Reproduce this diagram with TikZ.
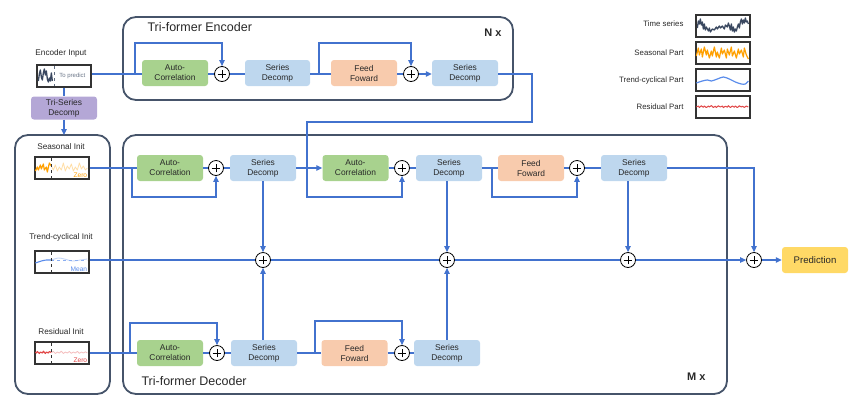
\documentclass[tikz,border=0pt]{standalone}
\usepackage{fontspec}
\setmainfont{Liberation Sans}
\usetikzlibrary{arrows.meta,calc}

\definecolor{flow}{RGB}{66,114,206}
\definecolor{panel}{RGB}{70,84,106}
\definecolor{acgreen}{RGB}{168,210,142}
\definecolor{sdblue}{RGB}{190,215,238}
\definecolor{fforange}{RGB}{248,203,173}
\definecolor{tsdpurple}{RGB}{180,167,214}
\definecolor{predyellow}{RGB}{255,217,102}
\definecolor{seriesdark}{RGB}{58,72,96}
\definecolor{seasonal}{RGB}{255,160,0}
\definecolor{trendblue}{RGB}{90,140,235}
\definecolor{residred}{RGB}{225,70,70}
\definecolor{txt}{RGB}{40,40,40}

\tikzset{
  blockbox/.style={rounded corners=3pt, minimum width=66pt, minimum height=26pt,
    inner sep=1pt, align=center, font=\fontsize{8.4}{10}\selectfont, text=txt},
  acbox/.style={blockbox, fill=acgreen},
  sdbox/.style={blockbox, fill=sdblue},
  ffbox/.style={blockbox, fill=fforange},
  addnode/.style={circle, draw=black, line width=0.8pt, fill=white, minimum size=15pt,
    inner sep=0pt, path picture={
      \draw[line width=0.9pt] ($(path picture bounding box.center)+(-4.3pt,0)$) -- ($(path picture bounding box.center)+(4.3pt,0)$);
      \draw[line width=0.9pt] ($(path picture bounding box.center)+(0,-4.3pt)$) -- ($(path picture bounding box.center)+(0,4.3pt)$);}},
  link/.style={draw=flow, line width=1.1pt},
  arr/.style={link, -{Triangle[length=6pt,width=5.5pt]}},
  frame/.style={draw=panel, line width=1.8pt, rounded corners=13pt},
  sparkbox/.style={draw=black!80, line width=1.3pt, minimum width=54pt, minimum height=22pt, inner sep=0pt, fill=white},
  label/.style={font=\fontsize{8.2}{10}\selectfont, text=txt},
  legtext/.style={font=\fontsize{7.8}{9}\selectfont, text=txt, anchor=east},
}

\begin{document}
\begin{tikzpicture}[x=1pt,y=-1pt]
\useasboundingbox (0,0) rectangle (856,408);

% ---------- frames ----------
\draw[frame] (123,17) rectangle (513,100);
\draw[frame] (15,135) rectangle (110,394);
\draw[frame] (123,135) rectangle (727,394);
\node[anchor=west, font=\fontsize{12.5}{14}\selectfont, text=txt] (enctitle) at (144,27) {Tri-former Encoder};
\node[anchor=east, font=\fontsize{11}{12}\selectfont\bfseries, text=txt] (ntimes) at (505,33) {N x};
\node[anchor=west, font=\fontsize{12.5}{14}\selectfont, text=txt] (dectitle) at (138,381) {Tri-former Decoder};
\node[anchor=east, font=\fontsize{11}{12}\selectfont\bfseries, text=txt] (mtimes) at (709,377) {M x};

% ---------- encoder input ----------
\node[label] (inlabel) at (61,53) {Encoder Input};
\node[sparkbox] (inbox) at (64,76) {};
\begin{scope}[shift={(inbox.west)}]
  \draw[seriesdark, line width=1.3pt, line join=round] plot coordinates {(2,5)(3,-2)(4,-6)(5,1)(6,4)(7,-3)(8,-7)(9,-1)(10,-5)(11,3)(12,6)(13,2)(14,5)(15,-3)(16,5)};
  \draw[seriesdark!80, dashed, line width=0.6pt] (18,-10) -- (18,10);
  \node[anchor=west, font=\fontsize{6}{7}\selectfont, text=panel!80] (topredict) at (19.5,0) {To predict};
\end{scope}

\node[blockbox, fill=tsdpurple, minimum width=66pt, minimum height=23pt] (tsd) at (64,108) {Tri-Series\\Decomp};
\coordinate (panelin) at (64,135);
\draw[link] (inbox.south) -- (tsd.north);
\draw[arr] (tsd.south) -- (panelin);

% ---------- init series ----------
\node[label] (slabel) at (61,147) {Seasonal Init};
\node[sparkbox] (sinit) at (62,168) {};
\begin{scope}[shift={(sinit.west)}]
  \draw[seasonal, line width=1.2pt, line join=round] plot coordinates {(1,3)(3,-1)(4,2)(6,-3)(7,1)(9,-4)(10,2)(12,-1)(13,4)(15,-5)(17,-2)};
  \draw[seasonal!35, line width=0.8pt, line join=round] plot coordinates {(17,-2)(19,2)(21,-3)(23,3)(25,-1)(27,2)(29,-5)(31,3)(33,-2)(35,1)(37,-4)(39,3)(41,-1)(43,2)(45,-5)(47,1)(49,-2)(51,2)(53,0)};
  \draw[black!80, dashed, line width=0.6pt] (17,-10) -- (17,10);
  \node[anchor=south east, inner sep=1pt, font=\fontsize{6.6}{7}\selectfont, text=seasonal] (szero) at (54,11) {Zero};
\end{scope}

\node[label] (tlabel) at (61,237) {Trend-cyclical Init};
\node[sparkbox] (tinit) at (62,262) {};
\begin{scope}[shift={(tinit.west)}]
  \draw[trendblue, line width=1.1pt] plot[smooth] coordinates {(1,1)(7,-1)(12,-2)(17,-2)};
  \draw[trendblue!35, line width=0.9pt] plot[smooth] coordinates {(17,-2)(24,-4)(30,-3)(38,-1)(46,-2)(53,-3)};
  \draw[trendblue!70, dashed, line width=0.6pt] (17,-2) -- (53,-2);
  \draw[black!80, dashed, line width=0.6pt] (17,-10) -- (17,10);
  \node[anchor=south east, inner sep=1pt, font=\fontsize{6.6}{7}\selectfont, text=trendblue] (tmean) at (54,11) {Mean};
\end{scope}

\node[label] (rlabel) at (61,332) {Residual Init};
\node[sparkbox] (rinit) at (62,353) {};
\begin{scope}[shift={(rinit.west)}]
  \draw[residred, line width=1.1pt, line join=round] plot coordinates {(1,-1)(2,0)(3,-1.5)(5,0.5)(6,-1)(8,0)(9,-1.8)(11,0.5)(12,-1)(14,0)(15,-1.5)(17,-0.5)};
  \draw[residred!35, line width=0.8pt, line join=round] plot coordinates {(17,-0.5)(19,-1.5)(21,0.5)(23,-1)(25,0)(27,-1.8)(29,0.5)(31,-1)(33,0)(35,-1.5)(37,0.3)(39,-1)(41,0)(43,-1.6)(45,0.4)(47,-1)(49,0)(51,-1.2)(53,0)};
  \draw[black!80, dashed, line width=0.6pt] (17,-10) -- (17,10);
  \node[anchor=south east, inner sep=1pt, font=\fontsize{6.6}{7}\selectfont, text=residred] (rzero) at (54,11) {Zero};
\end{scope}

% ---------- legend ----------
\node[sparkbox] (leg1) at (723,26) {};
\node[sparkbox] (leg2) at (723,53) {};
\node[sparkbox] (leg3) at (723,80) {};
\node[sparkbox] (leg4) at (723,107) {};
\node[legtext] (legt1) at (687,24) {Time series};
\node[legtext] (legt2) at (687,53) {Seasonal Part};
\node[legtext] (legt3) at (687,80) {Trend-cyclical Part};
\node[legtext] (legt4) at (687,107) {Residual Part};
\begin{scope}[shift={(leg1.west)}]
  \draw[seriesdark, line width=1.3pt, line join=round] plot coordinates {(2,2)(3,-5)(4,-2)(5,-7)(6,-1)(7,-4)(8,3)(9,-2)(10,4)(11,1)(13,5)(14,2)(15,6)(17,3)(19,4)(21,1)(22,3)(24,0)(25,2)(27,0)(29,3)(30,-1)(32,1)(33,-3)(34,0)(35,4)(36,-2)(37,5)(38,1)(39,6)(40,3)(41,5)(42,1)(43,-2)(44,2)(45,-4)(46,-7)(47,-2)(48,-6)(49,-3)(50,-8)(51,-4)(52,-5)(53,-2)};
\end{scope}
\begin{scope}[shift={(leg2.west)}]
  \draw[seasonal, line width=1.2pt, line join=round] plot coordinates {(1,3)(3,-5)(4,2)(6,-4)(7,4)(9,-6)(11,2)(12,-3)(14,5)(16,-2)(17,3)(19,-6)(21,4)(22,-1)(24,5)(26,-5)(27,1)(29,-3)(31,5)(32,-4)(34,2)(36,-6)(37,3)(39,-2)(41,5)(43,-4)(44,1)(46,-3)(48,4)(49,-5)(51,2)(53,6)};
\end{scope}
\begin{scope}[shift={(leg3.west)}]
  \draw[trendblue, line width=1.2pt] plot[smooth] coordinates {(1,3)(7,1)(12,0)(16,1)(22,-1)(28,-3)(34,-1)(40,2)(46,4)(50,4)(53,1)};
\end{scope}
\begin{scope}[shift={(leg4.west)}]
  \draw[residred, line width=1pt, line join=round] plot coordinates {(1,0)(3,-1)(4,0.5)(6,-1.2)(8,0.3)(9,-1)(11,0.6)(13,-1)(14,0)(16,-1.4)(18,0.4)(20,-0.8)(21,0.5)(23,-1.2)(25,0)(27,-1)(28,0.6)(30,-0.8)(32,0.2)(33,-1.3)(35,0.5)(37,-1)(39,0.2)(40,-1)(42,0.6)(44,-1.2)(46,0)(47,-0.8)(49,0.4)(51,-1)(53,0)};
\end{scope}

% ---------- encoder blocks ----------
\node[acbox] (encac) at (175,73) {Auto-\\Correlation};
\node[addnode] (encp1) at (222,74) {};
\node[sdbox, minimum width=65pt] (encsd1) at (277.5,73) {Series\\Decomp};
\node[ffbox] (encff) at (364,73) {Feed\\Foward};
\node[addnode] (encp2) at (411,74) {};
\node[sdbox] (encsd2) at (465,73) {Series\\Decomp};

\coordinate (eb1) at (135,74);
\coordinate (eb2) at (319,74);
\draw[link] (inbox.east |- eb1) -- (encac.west |- eb1);
\draw[arr] (eb1) -- (135,43) -| (encp1.north);
\draw[link] (encac.east |- encp1) -- (encp1.west);
\draw[link] (encp1.east) -- (encsd1.west |- encp1);
\draw[link] (encsd1.east |- eb2) -- (encff.west |- eb2);
\draw[arr] (eb2) -- (319,43) -| (encp2.north);
\draw[link] (encff.east |- encp2) -- (encp2.west);
\draw[arr] (encp2.east) -- (encsd2.west |- encp2);

% ---------- decoder blocks ----------
\node[acbox] (dac1) at (170,168) {Auto-\\Correlation};
\node[addnode] (dp1) at (216,168) {};
\node[sdbox] (dsd1) at (263,168) {Series\\Decomp};
\node[acbox] (dac2) at (355.5,168) {Auto-\\Correlation};
\node[addnode] (dp2) at (402,168) {};
\node[sdbox] (dsd2) at (449,168) {Series\\Decomp};
\node[ffbox] (dff) at (531,168) {Feed\\Foward};
\node[addnode] (dp3) at (577,168) {};
\node[sdbox] (dsd3) at (634,168) {Series\\Decomp};

\node[addnode] (tp1) at (263,260) {};
\node[addnode] (tp2) at (447,260) {};
\node[addnode] (tp3) at (628,260) {};
\node[addnode] (fp) at (754,260) {};
\node[blockbox, fill=predyellow, font=\fontsize{9.6}{11}\selectfont] (pred) at (815,260) {Prediction};

\node[acbox] (rac) at (170,353) {Auto-\\Correlation};
\node[addnode] (rp1) at (217,353) {};
\node[sdbox] (rsd1) at (264,353) {Series\\Decomp};
\node[ffbox] (rff) at (354.5,353) {Feed\\Foward};
\node[addnode] (rp2) at (402,353) {};
\node[sdbox] (rsd2) at (447,353) {Series\\Decomp};

% encoder output into the decoder
\coordinate (jn) at (307,168);
\draw[link] (encsd2.east |- eb1) -- (532,74) -- (532,122) -- (307,122) -- (jn);
\draw[arr] (jn) -- (dac2.west);
\draw[link] (dsd1.east) -- (jn);
\draw[arr] (jn) -- (307,197) -| (dp2.south);

% seasonal path
\coordinate (sb1) at (132,168);
\coordinate (sb3) at (492,168);
\draw[link] (sinit.east) -- (dac1.west);
\draw[arr] (sb1) -- (132,197) -| (dp1.south);
\draw[link] (dac1.east) -- (dp1.west);
\draw[link] (dp1.east) -- (dsd1.west);
\draw[link] (dac2.east) -- (dp2.west);
\draw[link] (dp2.east) -- (dsd2.west);
\draw[link] (dsd2.east) -- (dff.west);
\draw[arr] (sb3) -- (492,197) -| (dp3.south);
\draw[link] (dff.east) -- (dp3.west);
\draw[link] (dp3.east) -- (dsd3.west);
\draw[arr] (dsd3.east) -| (fp.north);

% trend path
\draw[arr] (dsd1.south) -- (tp1.north);
\draw[arr] (dsd2.south -| tp2) -- (tp2.north);
\draw[arr] (dsd3.south -| tp3) -- (tp3.north);
\draw[link] (tinit.east |- tp1) -- (tp1.west);
\draw[link] (tp1.east) -- (tp2.west);
\draw[link] (tp2.east) -- (tp3.west);
\draw[arr] (tp3.east) -- (fp.west);
\draw[arr] (fp.east) -- (pred.west);

% residual path
\coordinate (rb1) at (130,353);
\coordinate (rb2) at (315,353);
\draw[link] (rinit.east) -- (rac.west);
\draw[arr] (rb1) -- (130,323) -| (rp1.north);
\draw[link] (rac.east) -- (rp1.west);
\draw[link] (rp1.east) -- (rsd1.west);
\draw[link] (rsd1.east) -- (rff.west);
\draw[arr] (rb2) -- (315,321) -| (rp2.north);
\draw[link] (rff.east) -- (rp2.west);
\draw[link] (rp2.east) -- (rsd2.west);
\draw[arr] (rsd1.north -| tp1) -- (tp1.south);
\draw[arr] (rsd2.north -| tp2) -- (tp2.south);

\end{tikzpicture}
\end{document}
